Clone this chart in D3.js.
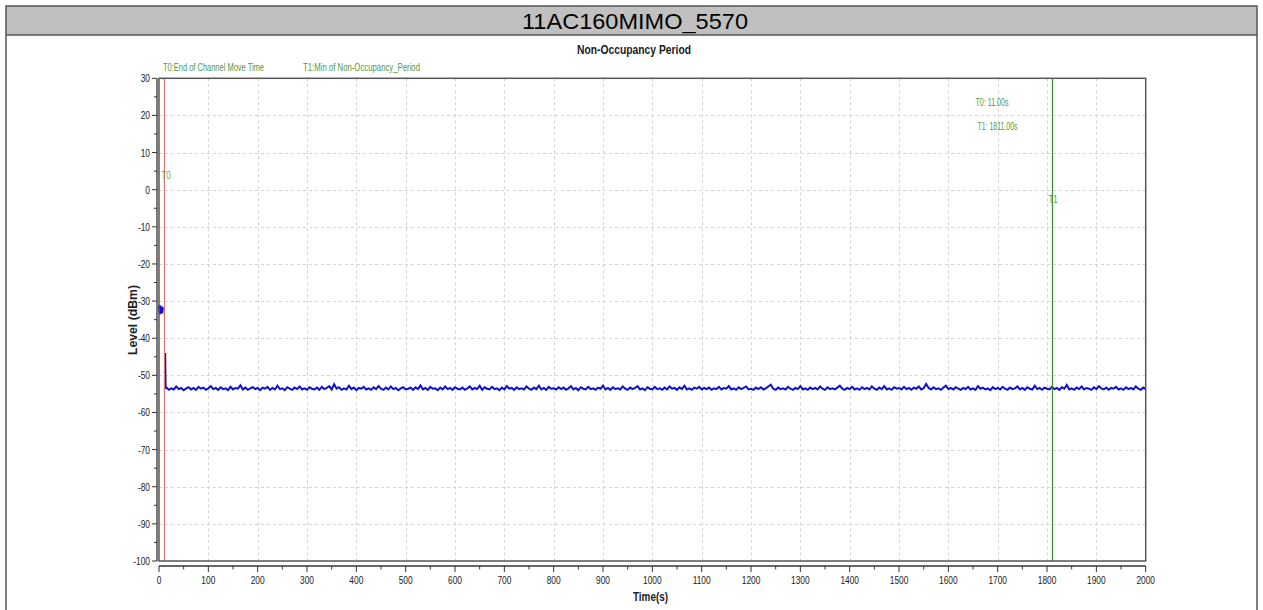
<!DOCTYPE html>
<html><head><meta charset="utf-8">
<script src="https://cdn.jsdelivr.net/npm/d3@7"></script>
<style>body{margin:0;background:#fff;overflow:hidden}svg{display:block}</style>
</head><body>
<svg id="c" width="1263" height="610"></svg>
<script>
const pageTitle = "11AC160MIMO_5570";
const chartTitle = "Non-Occupancy Period";
const xLabel = "Time(s)";
const yLabel = "Level (dBm)";
const xDomain = [0, 2000];
const yDomain = [-100, 30];
const xTickValues = [0,100,200,300,400,500,600,700,800,900,1000,1100,1200,1300,1400,1500,1600,1700,1800,1900,2000];
const yTickValues = [-100,-90,-80,-70,-60,-50,-40,-30,-20,-10,0,10,20,30];
const markerNames = ["T0", "T1"];
const markerTimes = [11, 1811];
const markerLegend = ["T0:End of Channel Move Time", "T1:Min of Non-Occupancy_Period"];
const markerReadout = ["T0: 11.00s", "T1: 1811.00s"];
// initial burst (before channel move end)
const burstTimes = [0, 1, 2, 3, 4, 5, 6, 7, 8];
const burstValues = [-32.2, -31.1, -33.5, -31.8, -33.0, -31.4, -33.3, -32.4, -31.7];
// drop after T0
const dropTimes = [12.5, 13, 13.5, 14];
const dropValues = [-44.0, -49.5, -53.6, -53.2];
// steady level, sampled every 5 s from 15 s
const levelStart = 15, levelStep = 5;
const levelValues = [
-53.3,-53.9,-53.5,-53.8,-53.0,-53.7,-53.4,-54.0,-53.5,-53.2,-53.8,-53.4,-53.9,-53.1,-53.6,-53.3,-53.9,-53.5,-52.9,-53.7,
-53.4,-53.9,-53.2,-53.7,-53.5,-54.0,-53.1,-53.8,-53.4,-53.6,-52.7,-53.8,-53.3,-53.9,-53.5,-53.2,-53.7,-53.4,-54.0,-53.3,
-53.6,-53.1,-53.9,-53.4,-53.8,-52.8,-53.7,-53.5,-54.0,-53.2,-53.6,-53.9,-53.3,-53.7,-53.0,-53.8,-53.5,-53.9,-53.2,-53.6,
-53.8,-53.3,-53.9,-53.1,-53.7,-53.4,-52.9,-53.8,-52.4,-53.6,-53.2,-53.9,-53.5,-53.8,-52.8,-53.7,-53.3,-54.0,-53.4,-53.6,
-53.1,-53.8,-53.5,-53.9,-53.2,-53.7,-52.9,-53.6,-53.9,-53.3,-53.8,-53.0,-53.7,-53.4,-54.0,-53.5,-53.2,-53.8,-53.6,-53.3,
-53.9,-53.2,-53.7,-52.7,-53.8,-53.4,-53.9,-53.1,-53.6,-53.5,-54.0,-53.3,-53.8,-53.0,-53.7,-53.4,-53.9,-53.2,-53.6,-53.8,
-53.3,-53.9,-53.5,-53.0,-53.8,-53.4,-53.7,-52.8,-53.9,-53.2,-53.6,-53.8,-53.1,-53.7,-53.5,-54.0,-53.3,-53.8,-52.9,-53.6,
-53.4,-53.9,-53.2,-53.7,-53.5,-53.8,-53.0,-53.6,-53.9,-53.3,-53.7,-52.8,-53.8,-53.4,-53.9,-53.1,-53.6,-53.5,-53.8,-53.2,
-53.7,-53.3,-53.9,-53.5,-52.9,-53.8,-53.4,-54.0,-53.2,-53.6,-53.8,-53.1,-53.7,-53.5,-53.9,-53.3,-53.6,-52.8,-53.8,-53.4,
-53.9,-53.2,-53.7,-53.5,-53.8,-53.0,-53.6,-53.9,-53.3,-53.7,-53.4,-52.9,-53.8,-53.5,-54.0,-53.2,-53.6,-53.8,-53.1,-53.7,
-53.5,-53.9,-53.3,-53.8,-53.0,-53.6,-53.4,-53.9,-53.2,-53.7,-52.8,-53.8,-53.5,-53.9,-53.3,-53.6,-53.1,-53.8,-53.4,-53.7,
-53.3,-53.9,-53.5,-53.7,-53.1,-53.8,-53.4,-53.6,-52.9,-53.8,-53.5,-53.9,-53.2,-53.7,-53.4,-53.0,-53.8,-53.6,-53.9,-53.3,
-53.7,-53.2,-53.8,-53.5,-53.0,-52.5,-53.6,-53.9,-53.3,-53.7,-53.5,-53.8,-53.1,-53.6,-53.9,-53.4,-53.7,-52.9,-53.8,-53.5,
-53.9,-53.3,-53.7,-53.4,-53.8,-53.0,-53.6,-53.9,-53.2,-53.7,-53.5,-53.8,-53.3,-52.8,-53.6,-53.9,-53.4,-53.7,-53.1,-53.8,
-53.5,-53.9,-53.2,-53.7,-53.4,-53.8,-53.0,-53.6,-53.9,-53.3,-53.7,-52.9,-53.8,-53.5,-53.9,-53.2,-53.6,-53.4,-53.8,-53.1,
-53.7,-53.4,-53.9,-53.3,-53.6,-53.0,-53.8,-53.5,-52.3,-53.4,-53.8,-53.2,-53.7,-53.5,-53.9,-53.3,-52.8,-53.7,-53.4,-53.8,
-53.2,-53.6,-53.9,-53.4,-53.7,-53.1,-53.8,-53.5,-53.9,-52.9,-53.6,-53.3,-53.8,-53.5,-54.0,-53.2,-53.7,-53.4,-53.8,-53.1,
-53.6,-53.9,-53.3,-53.7,-53.5,-53.0,-53.8,-53.4,-53.9,-53.2,-53.6,-53.8,-52.8,-53.7,-53.4,-53.9,-53.3,-53.6,-53.8,-53.1,
-53.7,-53.4,-53.9,-53.2,-53.6,-52.6,-53.8,-53.5,-53.9,-53.3,-53.7,-53.0,-53.8,-53.4,-53.6,-53.9,-53.2,-53.7,-52.9,-53.5,
-53.8,-53.3,-53.9,-53.4,-53.6,-53.1,-53.8,-53.5,-53.9,-53.2,-53.7,-53.4,-53.8,-53.0,-53.6,-53.9,-53.3,-53.7,-53.5,-53.8
];

const sans = "'Liberation Sans',Arial,sans-serif";
const svg = d3.select("#c");

// narrow text helper: horizontally compressed sans
function ntext(parent, x, y, str, o = {}) {
  const t = parent.append("text")
    .attr("transform", `translate(${x},${y}) scale(${o.sx || 0.76},1)`)
    .attr("font-family", sans).attr("font-size", o.size || 11)
    .attr("text-anchor", o.anchor || "start")
    .attr("fill", o.fill || "#222").text(str);
  if (o.bold) t.attr("font-weight", "bold");
  return t;
}
function ftext(parent, x, y, str, len, o = {}) {
  const t = parent.append("text").attr("x", x).attr("y", y)
    .attr("font-family", sans).attr("font-size", o.size || 11)
    .attr("text-anchor", o.anchor || "start")
    .attr("textLength", len).attr("lengthAdjust", "spacingAndGlyphs")
    .attr("fill", o.fill || "#222").text(str);
  if (o.bold) t.attr("font-weight", "bold");
  return t;
}

// frame + title bar
svg.append("rect").attr("x", 6).attr("y", 6).attr("width", 1251).attr("height", 29)
  .attr("fill", "#c0c0c0");
svg.append("rect").attr("x", 6).attr("y", 6).attr("width", 1251).attr("height", 620)
  .attr("fill", "none").attr("stroke", "#555").attr("stroke-width", 1.5);
svg.append("line").attr("x1", 6).attr("x2", 1257).attr("y1", 35).attr("y2", 35)
  .attr("stroke", "#555").attr("stroke-width", 1.5);
ftext(svg, 522, 29, pageTitle, 226, { size: 22, fill: "#000" });

const x = d3.scaleLinear().domain(xDomain).range([159, 1145.7]);
const y = d3.scaleLinear().domain(yDomain).range([561, 78.3]);
const [X0, X1] = x.range();
const [Y0, Y1] = [y(yDomain[1]), y(yDomain[0])];

// chart title
ftext(svg, 577, 54, chartTitle, 114, { size: 13.5, bold: true, fill: "#1a1a1a" });

// grid
const grid = svg.append("g").attr("stroke", "#d4d4d4").attr("stroke-dasharray", "3,3").attr("stroke-width", 1);
grid.selectAll("line.gx").data(xTickValues.filter(v => v > xDomain[0] && v < xDomain[1])).join("line")
  .attr("class", "gx")
  .attr("x1", d => Math.round(x(d)) + 0.5).attr("x2", d => Math.round(x(d)) + 0.5)
  .attr("y1", Y0).attr("y2", Y1);
grid.selectAll("line.gy").data(yTickValues.filter(v => v > yDomain[0] && v < yDomain[1])).join("line")
  .attr("class", "gy")
  .attr("x1", X0).attr("x2", X1)
  .attr("y1", d => Math.round(y(d)) + 0.5).attr("y2", d => Math.round(y(d)) + 0.5);

// clip
svg.append("clipPath").attr("id", "clip").append("rect")
  .attr("x", X0 - 1).attr("y", Y0).attr("width", X1 - X0 + 1).attr("height", Y1 - Y0);

const line = d3.line().x(d => x(d[0])).y(d => y(d[1]));
const plot = svg.append("g").attr("clip-path", "url(#clip)");
const burst = burstTimes.map((t, i) => [t, burstValues[i]]);
const level = dropTimes.map((t, i) => [t, dropValues[i]])
  .concat(levelValues.map((v, i) => [levelStart + i * levelStep, v]));

// marker lines (behind data)
const markerColors = ["#e07474", "#3d8d3d"];
markerTimes.forEach((t, i) => {
  svg.append("line").attr("x1", x(t)).attr("x2", x(t)).attr("y1", Y0).attr("y2", Y1)
    .attr("stroke", markerColors[i]).attr("stroke-width", 1.2);
});

plot.append("path").datum(burst).attr("d", line).attr("fill", "none")
  .attr("stroke", "#1010cc").attr("stroke-width", 2.4);
plot.append("path").datum(level).attr("d", line).attr("fill", "none")
  .attr("stroke", "#1010cc").attr("stroke-width", 2.0).attr("stroke-linejoin", "miter");

const green = "#4f9a3f";
ntext(svg, x(markerTimes[0]) - 3, 179, markerNames[0], { size: 10.5, fill: "#86a040" });
ntext(svg, x(markerTimes[1]) - 4, 203, markerNames[1], { size: 10.5, fill: green });

// legend
ftext(svg, 163, 71, markerLegend[0], 101, { size: 10, fill: green });
ftext(svg, 303, 71, markerLegend[1], 117, { size: 10, fill: green });
// readouts
ftext(svg, 975.5, 106, markerReadout[0], 33, { size: 10.5, fill: green });
ftext(svg, 977.5, 130, markerReadout[1], 40, { size: 10.5, fill: green });

// plot frame
svg.append("rect").attr("x", X0).attr("y", Y0).attr("width", X1 - X0).attr("height", Y1 - Y0)
  .attr("fill", "none").attr("stroke", "#555").attr("stroke-width", 1.5);

// x axis
const xAxis = svg.append("g").attr("transform", "translate(0,566)");
xAxis.append("line").attr("x1", X0).attr("x2", X1).attr("y1", 0).attr("y2", 0)
  .attr("stroke", "#333").attr("stroke-width", 1.5);
const xMinor = d3.range(xDomain[0], xDomain[1] + 1, 50);
xAxis.selectAll("line.mn").data(xMinor).join("line").attr("class", "mn")
  .attr("x1", d => x(d)).attr("x2", d => x(d)).attr("y1", 0)
  .attr("y2", d => xTickValues.includes(d) ? 6 : 3.5).attr("stroke", "#333");
xTickValues.forEach(v => ntext(xAxis, x(v), 18, String(v), { anchor: "middle", size: 11 }));

// y axis
const yAxis = svg.append("g").attr("transform", "translate(157,0)");
yAxis.append("line").attr("x1", 0).attr("x2", 0).attr("y1", Y0).attr("y2", Y1)
  .attr("stroke", "#333").attr("stroke-width", 1.3);
const yMinor = d3.range(yDomain[0], yDomain[1] + 1, 5);
yAxis.selectAll("line.mn").data(yMinor).join("line").attr("class", "mn")
  .attr("y1", d => y(d)).attr("y2", d => y(d)).attr("x1", 0)
  .attr("x2", d => yTickValues.includes(d) ? -5 : -3).attr("stroke", "#333");
yTickValues.forEach(v => ntext(yAxis, -7, y(v) + 4, String(v), { anchor: "end", size: 11 }));

// axis labels
ftext(svg, 633, 601, xLabel, 35, { size: 12, bold: true });
svg.append("text").attr("transform", "translate(137,320) rotate(-90)").attr("text-anchor", "middle")
  .attr("font-family", sans).attr("font-weight", "bold").attr("font-size", 12)
  .attr("textLength", 70).attr("lengthAdjust", "spacingAndGlyphs")
  .attr("fill", "#222").text(yLabel);
</script>
</body></html>
